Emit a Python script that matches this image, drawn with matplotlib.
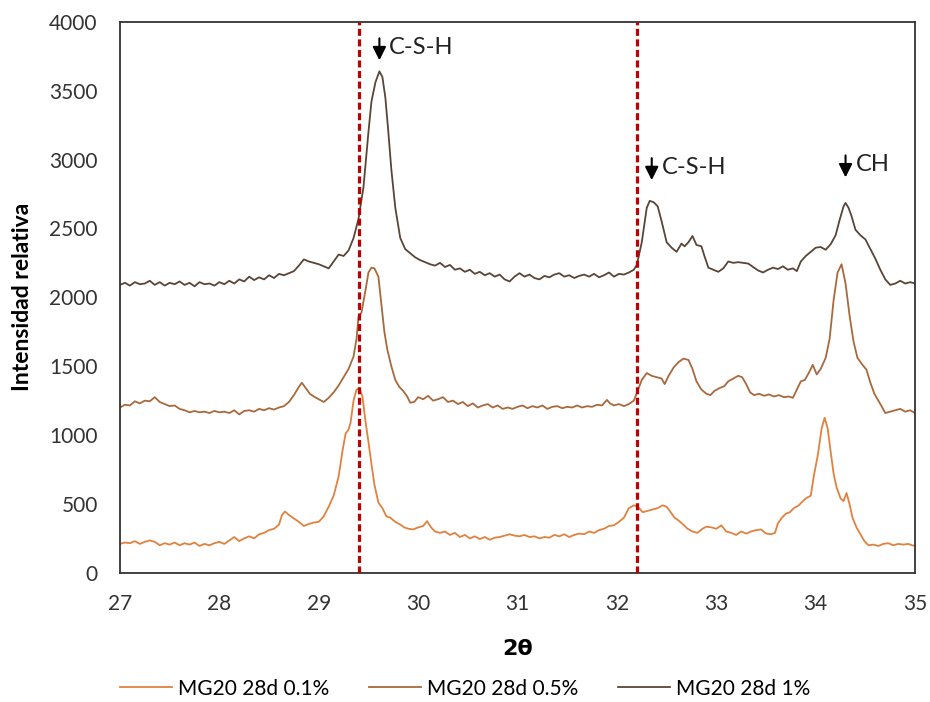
import numpy as np
import matplotlib.pyplot as plt

# 2theta / intensity
# MG20 28d 1%
x_1 = [27.00, 27.05, 27.10, 27.15, 27.20, 27.25, 27.30, 27.35, 27.40, 27.45, 27.50, 27.55, 27.60, 27.65, 27.70,
       27.75, 27.80, 27.85, 27.90, 27.95, 28.00, 28.05, 28.10, 28.15, 28.20, 28.25, 28.30, 28.35, 28.40, 28.45,
       28.50, 28.55, 28.60, 28.65, 28.70, 28.75, 28.80, 28.85, 28.90, 28.95, 29.00, 29.05, 29.10, 29.15, 29.20,
       29.25, 29.30, 29.35, 29.40, 29.45, 29.50, 29.53, 29.57, 29.61, 29.64, 29.67, 29.70, 29.73, 29.77, 29.82,
       29.87, 29.92, 29.97, 30.02, 30.07, 30.12, 30.17, 30.22, 30.27, 30.32, 30.37, 30.42, 30.47, 30.52, 30.57,
       30.62, 30.67, 30.72, 30.77, 30.82, 30.87, 30.92, 30.97, 31.02, 31.07, 31.12, 31.17, 31.22, 31.27, 31.32,
       31.37, 31.42, 31.47, 31.52, 31.57, 31.62, 31.67, 31.72, 31.77, 31.82, 31.87, 31.92, 31.97, 32.02, 32.07,
       32.12, 32.17, 32.20, 32.25, 32.30, 32.33, 32.37, 32.41, 32.45, 32.50, 32.55, 32.60, 32.65, 32.68, 32.72,
       32.76, 32.80, 32.85, 32.88, 32.92, 32.97, 33.02, 33.07, 33.12, 33.17, 33.22, 33.27, 33.32, 33.37, 33.42,
       33.47, 33.52, 33.57, 33.62, 33.67, 33.72, 33.77, 33.81, 33.85, 33.90, 33.95, 34.00, 34.05, 34.10, 34.15,
       34.20, 34.24, 34.28, 34.30, 34.33, 34.36, 34.40, 34.45, 34.50, 34.55, 34.60, 34.65, 34.70, 34.75, 34.80,
       34.85, 34.90, 34.95, 35.00]
y_1 = [2090, 2105, 2085, 2110, 2095, 2100, 2120, 2090, 2110, 2085, 2105, 2095, 2115, 2090, 2105,
       2080, 2110, 2095, 2100, 2085, 2110, 2095, 2120, 2100, 2130, 2115, 2150, 2125, 2145, 2130,
       2160, 2140, 2170, 2160, 2175, 2190, 2230, 2275, 2260, 2250, 2240, 2225, 2210, 2260, 2310,
       2300, 2340, 2430, 2570, 2800, 3200, 3420, 3560, 3640, 3600, 3450, 3200, 2930, 2650, 2430,
       2350, 2320, 2290, 2270, 2255, 2240, 2230, 2250, 2220, 2235, 2200, 2210, 2185, 2200, 2170,
       2185, 2160, 2175, 2150, 2165, 2130, 2115, 2150, 2175, 2150, 2165, 2140, 2130, 2155, 2145,
       2165, 2175, 2150, 2160, 2140, 2155, 2165, 2150, 2170, 2145, 2160, 2180, 2150, 2170, 2165,
       2180, 2200, 2235, 2400, 2650, 2700, 2690, 2660, 2550, 2400, 2360, 2330, 2390, 2370, 2400,
       2445, 2380, 2370, 2300, 2215, 2200, 2185, 2210, 2260, 2250, 2255, 2250, 2245, 2220, 2195,
       2180, 2200, 2215, 2205, 2225, 2200, 2210, 2190, 2260, 2300, 2330, 2360, 2365, 2345, 2385,
       2450, 2560, 2660, 2685, 2650, 2590, 2490, 2450, 2420, 2350, 2280, 2200, 2130, 2090, 2100,
       2120, 2100, 2110, 2100]

# MG20 28d 0.5%
x_05 = [27.00, 27.05, 27.10, 27.15, 27.20, 27.25, 27.30, 27.35, 27.40, 27.45, 27.50, 27.55, 27.60, 27.65, 27.70,
        27.75, 27.80, 27.85, 27.90, 27.95, 28.00, 28.05, 28.10, 28.15, 28.20, 28.25, 28.30, 28.35, 28.40, 28.45,
        28.50, 28.55, 28.60, 28.65, 28.70, 28.75, 28.80, 28.83, 28.87, 28.91, 28.95, 29.00, 29.05, 29.10, 29.15,
        29.20, 29.25, 29.30, 29.35, 29.38, 29.40, 29.43, 29.47, 29.50, 29.53, 29.56, 29.60, 29.63, 29.66, 29.69,
        29.73, 29.77, 29.81, 29.85, 29.89, 29.92, 29.96, 30.00, 30.05, 30.10, 30.15, 30.20, 30.25, 30.30, 30.35,
        30.40, 30.45, 30.50, 30.55, 30.60, 30.65, 30.70, 30.75, 30.80, 30.85, 30.90, 30.95, 31.00, 31.05, 31.10,
        31.15, 31.20, 31.25, 31.30, 31.35, 31.40, 31.45, 31.50, 31.55, 31.60, 31.65, 31.70, 31.75, 31.80, 31.85,
        31.90, 31.93, 31.97, 32.02, 32.07, 32.12, 32.17, 32.20, 32.25, 32.30, 32.35, 32.40, 32.45, 32.48, 32.52,
        32.57, 32.62, 32.67, 32.72, 32.76, 32.80, 32.85, 32.90, 32.94, 32.98, 33.03, 33.08, 33.12, 33.17, 33.22,
        33.26, 33.30, 33.34, 33.38, 33.43, 33.48, 33.53, 33.58, 33.63, 33.68, 33.73, 33.77, 33.81, 33.85, 33.89,
        33.93, 33.97, 34.01, 34.05, 34.10, 34.14, 34.18, 34.22, 34.26, 34.30, 34.34, 34.38, 34.42, 34.47, 34.51,
        34.55, 34.59, 34.63, 34.67, 34.70, 34.75, 34.80, 34.85, 34.90, 34.95, 35.00]
y_05 = [1200, 1220, 1215, 1245, 1230, 1250, 1245, 1275, 1240, 1225, 1210, 1215, 1190, 1180, 1165,
        1175, 1165, 1170, 1160, 1175, 1165, 1170, 1160, 1180, 1150, 1175, 1180, 1170, 1190, 1180,
        1195, 1185, 1200, 1210, 1240, 1290, 1350, 1380, 1340, 1300, 1280, 1260, 1240, 1270, 1310,
        1360, 1420, 1480, 1570, 1700, 1860, 1890, 2050, 2180, 2215, 2210, 2150, 1950, 1750, 1620,
        1500, 1400, 1350, 1320, 1280, 1235, 1240, 1275, 1260, 1285, 1250, 1260, 1275, 1240, 1250,
        1225, 1240, 1210, 1230, 1200, 1215, 1225, 1200, 1215, 1190, 1200, 1190, 1205, 1215, 1195,
        1210, 1200, 1215, 1190, 1205, 1210, 1195, 1205, 1200, 1215, 1200, 1210, 1205, 1220, 1215,
        1255, 1230, 1215, 1225, 1210, 1225, 1250, 1305, 1400, 1450, 1430, 1420, 1410, 1370, 1430,
        1490, 1530, 1555, 1545, 1480, 1390, 1330, 1300, 1290, 1320, 1340, 1355, 1390, 1410, 1430,
        1420, 1370, 1310, 1290, 1300, 1285, 1295, 1280, 1290, 1275, 1280, 1270, 1330, 1390, 1400,
        1450, 1510, 1440, 1480, 1560, 1700, 1980, 2180, 2240, 2100, 1870, 1680, 1560, 1510, 1475,
        1380, 1300, 1250, 1200, 1160, 1170, 1180, 1190, 1170, 1180, 1160]

# MG20 28d 0.1%
x_01 = [27.00, 27.05, 27.10, 27.15, 27.20, 27.25, 27.30, 27.35, 27.40, 27.45, 27.50, 27.55, 27.60, 27.65, 27.70,
        27.75, 27.80, 27.85, 27.90, 27.95, 28.00, 28.05, 28.10, 28.15, 28.20, 28.25, 28.30, 28.35, 28.40, 28.45,
        28.50, 28.55, 28.60, 28.63, 28.66, 28.70, 28.75, 28.80, 28.85, 28.90, 28.95, 29.00, 29.05, 29.10, 29.15,
        29.20, 29.24, 29.27, 29.30, 29.32, 29.35, 29.38, 29.41, 29.44, 29.47, 29.50, 29.53, 29.56, 29.60, 29.64,
        29.68, 29.72, 29.77, 29.82, 29.86, 29.90, 29.95, 30.00, 30.05, 30.09, 30.13, 30.17, 30.22, 30.27, 30.32,
        30.37, 30.42, 30.47, 30.52, 30.57, 30.62, 30.67, 30.72, 30.77, 30.82, 30.87, 30.92, 30.97, 31.02, 31.07,
        31.12, 31.17, 31.22, 31.27, 31.32, 31.37, 31.42, 31.47, 31.52, 31.57, 31.62, 31.67, 31.72, 31.77, 31.82,
        31.87, 31.92, 31.97, 32.02, 32.07, 32.12, 32.17, 32.21, 32.26, 32.31, 32.36, 32.41, 32.46, 32.50, 32.54,
        32.58, 32.62, 32.66, 32.71, 32.76, 32.81, 32.86, 32.90, 32.95, 33.00, 33.05, 33.10, 33.15, 33.20, 33.25,
        33.30, 33.35, 33.40, 33.45, 33.50, 33.55, 33.59, 33.62, 33.66, 33.70, 33.74, 33.78, 33.83, 33.87, 33.91,
        33.95, 33.98, 34.02, 34.06, 34.09, 34.12, 34.15, 34.18, 34.21, 34.25, 34.28, 34.31, 34.34, 34.37, 34.41,
        34.45, 34.49, 34.53, 34.58, 34.63, 34.68, 34.73, 34.78, 34.83, 34.88, 34.93, 34.97, 35.00]
y_01 = [210, 220, 215, 230, 210, 225, 235, 225, 200, 215, 205, 220, 200, 215, 205,
        220, 195, 210, 200, 215, 225, 210, 235, 260, 230, 250, 265, 250, 280, 290,
        310, 320, 350, 420, 445, 420, 395, 370, 340, 355, 365, 370, 410, 480, 560,
        700, 890, 1010, 1040, 1090, 1250, 1330, 1340, 1280, 1100, 950, 790, 640, 510, 470,
        410, 400, 370, 350, 330, 320, 315, 330, 340, 375, 330, 300, 290, 300, 275,
        290, 260, 275, 250, 265, 245, 260, 240, 255, 260, 270, 280, 270, 265, 275,
        260, 265, 250, 260, 255, 275, 265, 280, 260, 275, 285, 280, 300, 290, 310,
        320, 340, 345, 370, 400, 470, 490, 480, 440, 450, 460, 470, 490, 480, 440,
        400, 380, 355, 320, 300, 290, 320, 335, 330, 320, 345, 300, 290, 275, 300,
        285, 300, 310, 315, 285, 280, 290, 360, 400, 430, 440, 470, 490, 520, 545,
        560, 700, 850, 1050, 1125, 1050, 880, 720, 620, 540, 520, 580, 500, 400, 330,
        280, 230, 200, 205, 195, 210, 215, 200, 210, 205, 210, 200, 195]

labels = ['MG20 28d 0.1%', 'MG20 28d 0.5%', 'MG20 28d 1%']
ref_lines = [29.4, 32.2]
# (x of arrow, y of arrow tip, text)
peaks = [(29.61, 3700, 'C-S-H'), (32.35, 2830, 'C-S-H'), (34.30, 2850, 'CH')]

plt.rcParams['font.family'] = ['Lato', 'DejaVu Sans']

fig = plt.figure(figsize=(9.3, 7.02), dpi=100)
ax = fig.add_axes([0.129, 0.184, 0.855, 0.785])

ax.plot(x_01, y_01, color='#E0823F', lw=1.3, label=labels[0])
ax.plot(x_05, y_05, color='#A8693C', lw=1.3, label=labels[1])
ax.plot(x_1, y_1, color='#5A4536', lw=1.3, label=labels[2])

for xv in ref_lines:
    ax.axvline(xv, color='#C00000', lw=2.3, ls=(0, (2.2, 1.1)), zorder=5)

for xp, yp, txt in peaks:
    ax.annotate('', xy=(xp, yp), xytext=(xp, yp + 200),
                arrowprops=dict(arrowstyle='-|>,head_width=0.4,head_length=0.8', color='black', lw=1.5))
    ax.text(xp + 0.1, yp + 115, txt, fontsize=17, va='center', ha='left', color='#222222')

ax.set_xlim(27, 35)
ax.set_ylim(0, 4000)
ax.set_xticks(np.arange(27, 36, 1))
ax.set_yticks(np.arange(0, 4001, 500))
ax.tick_params(length=0, labelsize=15, colors='#333333')
ax.tick_params(axis='x', pad=15)
ax.tick_params(axis='y', pad=16)
for s in ax.spines.values():
    s.set_color('#333333')
    s.set_linewidth(1.3)

ax.set_xlabel('2θ', fontsize=16, fontweight='bold', labelpad=18, family=['DejaVu Sans'])
ax.set_ylabel('Intensidad relativa', fontsize=16.5, fontweight='bold', labelpad=12)

fig.legend(loc='lower center', bbox_to_anchor=(0.5, -0.022), ncol=3, frameon=False,
           fontsize=15, handlelength=2.5, handletextpad=0.3, columnspacing=1.9)

fig.savefig('out.png', dpi=100)
